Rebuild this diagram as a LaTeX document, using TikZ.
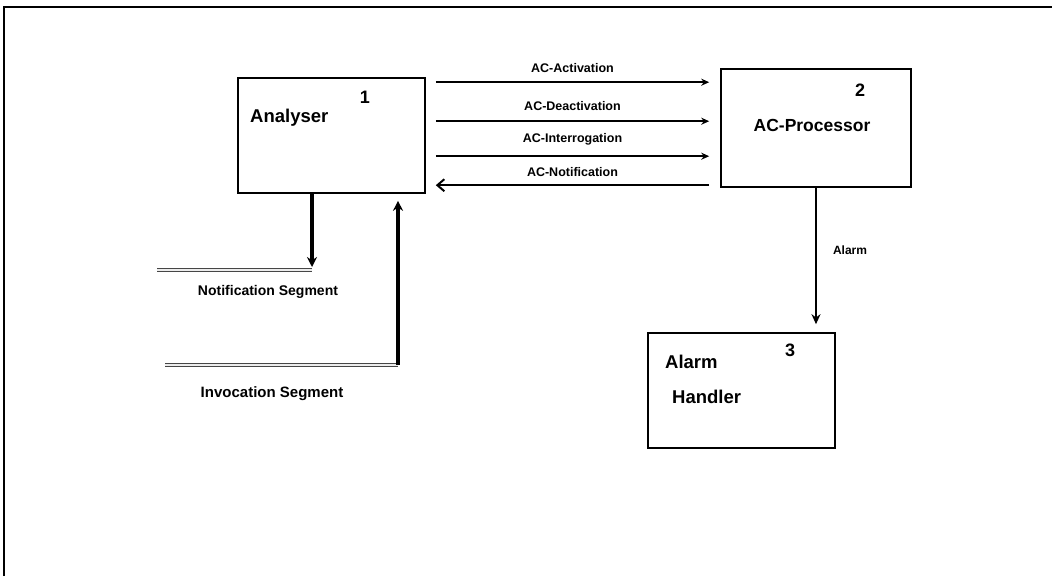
\documentclass[tikz,border=0pt]{standalone}
\usepackage{fontspec}
\setmainfont{Liberation Sans}
\usetikzlibrary{arrows.meta,calc}

\begin{document}
\begin{tikzpicture}[
        x=1pt, y=-1pt,
        box/.style={draw, line width=1.6pt, minimum width=187pt, minimum height=115pt, inner sep=0pt},
        boxtext/.style={inner sep=0pt, font=\fontsize{18.5}{20}\selectfont\bfseries},
        num/.style={inner sep=0pt, font=\fontsize{18}{20}\selectfont\bfseries},
        lbl/.style={inner sep=0pt, font=\fontsize{12.5}{14}\selectfont\bfseries},
        seglbl/.style={inner sep=0pt, font=\fontsize{14}{16}\selectfont\bfseries},
        arr/.style={-{Stealth[length=8pt, width=7pt]}, line width=2pt},
        back/.style={-{Straight Barb[length=7pt, width=12pt]}, line width=2pt},
        thick line/.style={line width=3.4pt},
        seg/.style={double=white!85!gray, double distance=1.4pt, line width=1.3pt, gray!55!black},
    ]
        \useasboundingbox (0,0) rectangle (1052,576);
        \draw[line width=1.9pt] (4,576) -- (4,7) -- (1052,7);

        \node[box] (analyser) at (331.5,135.5) {};
        \node[box, minimum width=190pt, minimum height=118pt] (acproc) at (816,128) {};
        \node[box] (handler) at (741.5,390.5) {};

        \node[boxtext, anchor=west] (analyser-t) at (250,118) {Analyser};
        \node[num] (analyser-n) at (365,97) {1};
        \node[boxtext, font=\fontsize{17.5}{20}\selectfont\bfseries] (acproc-t) at (812,125) {AC-Processor};
        \node[num] (acproc-n) at (860,90) {2};
        \node[boxtext, anchor=west] (handler-t1) at (665,362) {Alarm};
        \node[boxtext, anchor=west] (handler-t2) at (672,397) {Handler};
        \node[num] (handler-n) at (790,350) {3};

        \draw[arr] ($(analyser.north east)+(10,5)$) -- node[lbl, above=9pt] (act) {AC-Activation} ($(acproc.north west)+(-11,14)$);
        \draw[arr] ($(analyser.north east)+(10,44)$) -- node[lbl, above=10pt] (deact) {AC-Deactivation} ($(acproc.north west)+(-11,53)$);
        \draw[arr] ($(analyser.north east)+(10,79)$) -- node[lbl, above=10pt] (interr) {AC-Interrogation} ($(acproc.north west)+(-11,88)$);
        \draw[back] ($(acproc.north west)+(-11,117)$) -- node[lbl, above=8pt] (notif) {AC-Notification} ($(analyser.north east)+(10,108)$);

        \draw[-{Stealth[length=10pt, width=9pt]}, line width=2.4pt, shorten >=8pt] (acproc.south) -- (acproc.south |- handler.north);
        \node[lbl, font=\fontsize{12}{14}\selectfont\bfseries] (alarm) at (850,250) {Alarm};

        \coordinate (notif-l) at (157,270);
        \coordinate (notif-r) at (312,270);
        \coordinate (inv-l) at (165,365);
        \coordinate (inv-r) at (398,365);
        \draw[seg] (notif-l) -- (notif-r);
        \draw[seg] (inv-l) -- (inv-r);
        \draw[thick line, -{Stealth[length=10pt, width=10pt]}] (analyser.south -| notif-r) -- ($(notif-r)+(0,-3)$);
        \draw[thick line, -{Stealth[length=10pt, width=10pt]}, shorten >=7pt] (inv-r) -- (analyser.south -| inv-r);
        \node[seglbl] (notif-seg) at (268,292) {Notification Segment};
        \node[seglbl, font=\fontsize{15}{17}\selectfont\bfseries] (inv-seg) at (272,394) {Invocation Segment};
\end{tikzpicture}
\end{document}
